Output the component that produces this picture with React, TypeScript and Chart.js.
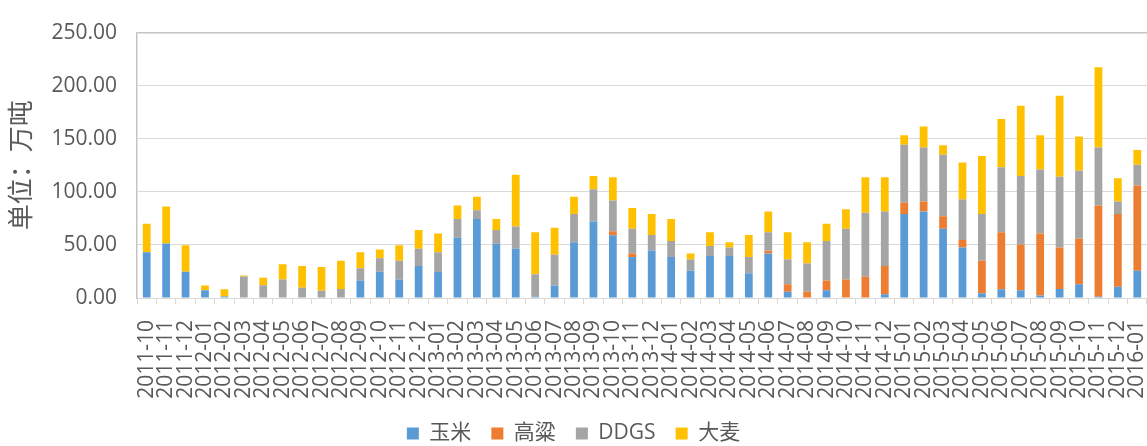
import React, { useEffect, useRef } from "react";
import { Chart, registerables } from "chart.js";

Chart.register(...registerables);

const categories: string[] = [
  "2011-10", "2011-11", "2011-12",
  "2012-01", "2012-02", "2012-03", "2012-04", "2012-05", "2012-06", "2012-07", "2012-08", "2012-09", "2012-10", "2012-11", "2012-12",
  "2013-01", "2013-02", "2013-03", "2013-04", "2013-05", "2013-06", "2013-07", "2013-08", "2013-09", "2013-10", "2013-11", "2013-12",
  "2014-01", "2014-02", "2014-03", "2014-04", "2014-05", "2014-06", "2014-07", "2014-08", "2014-09", "2014-10", "2014-11", "2014-12",
  "2015-01", "2015-02", "2015-03", "2015-04", "2015-05", "2015-06", "2015-07", "2015-08", "2015-09", "2015-10", "2015-11", "2015-12",
  "2016-01",
];

// 玉米
const corn: number[] = [
  43.1, 51.3, 24.7,
  7.2, 1.5, 0, 0, 0, 0, 0, 0, 16.6, 24.7, 17.5, 30.2,
  24.5, 57.0, 74.5, 51.0, 46.5, 1.2, 11.8, 52.5, 72.1, 59.1, 38.6, 44.7,
  38.6, 25.6, 39.5, 39.5, 23.2, 41.9, 6.0, 0, 7.2, 0, 0, 3.6,
  79.1, 81.5, 65.2, 47.6, 4.5, 8.2, 7.2, 2.4, 8.4, 13.0, 1.2, 10.5,
  25.6,
];

// 高粱
const sorghum: number[] = [
  0, 0, 0,
  0, 0, 0, 0, 0, 0, 0, 0, 0, 0, 0, 0,
  0, 0, 0, 0, 0, 0, 0, 0, 0, 3.7, 3.3, 0,
  0, 0, 0, 0, 0, 2.5, 7.0, 6.0, 9.4, 17.5, 19.9, 26.6,
  10.6, 9.4, 11.8, 7.0, 30.5, 53.7, 42.9, 58.3, 39.2, 42.8, 86.0, 68.6,
  80.4,
];

// DDGS
const ddgs: number[] = [
  0, 0, 0,
  0, 0, 20.2, 12.0, 17.5, 9.6, 6.9, 8.4, 11.5, 12.7, 17.5, 16.3,
  18.6, 17.5, 8.2, 13.0, 20.8, 21.1, 29.0, 26.6, 30.3, 29.0, 23.3, 14.7,
  15.1, 10.6, 9.4, 8.1, 15.4, 17.5, 23.2, 26.6, 37.1, 47.7, 60.4, 51.3,
  54.6, 50.9, 58.0, 38.3, 44.1, 61.3, 64.9, 60.3, 66.5, 64.0, 54.6, 11.8,
  19.5,
];

// 大麦
const barley: number[] = [
  26.9, 35.0, 25.1,
  4.6, 6.7, 0.9, 7.0, 14.2, 20.6, 22.4, 26.6, 15.0, 8.2, 14.8, 17.5,
  17.6, 12.7, 12.7, 10.5, 48.9, 39.6, 25.3, 16.3, 12.6, 22.0, 19.6, 19.7,
  20.8, 5.7, 13.0, 4.9, 20.8, 19.6, 25.7, 19.9, 16.3, 18.4, 33.5, 32.3,
  9.1, 19.7, 9.0, 34.8, 54.6, 45.3, 66.2, 32.4, 76.4, 32.4, 75.6, 22.0,
  14.0,
];

const seriesNames: string[] = ["玉米", "高粱", "DDGS", "大麦"];
const seriesColors: string[] = ["#5B9BD5", "#ED7D31", "#A5A5A5", "#FFC000"];
const yTicks: number[] = [0, 50, 100, 150, 200, 250];
const yTitle = "单位：万吨";

const W = 1147;
const H = 446;
const FONT = '"Open Sans", "Noto Sans CJK SC", sans-serif';
const TEXT = "#595959";

const legendFit = {
  id: "legendFit",
  beforeInit(chart: any) {
    const legend = chart.legend;
    if (!legend) return;
    const orig = legend.fit;
    legend.fit = function () {
      orig.call(this);
      this.height = 43;
    };
  },
};

export default function App() {
  const ref = useRef<HTMLCanvasElement | null>(null);

  useEffect(() => {
    if (!ref.current) return;
    const chart = new Chart(ref.current, {
      type: "bar",
      data: {
        labels: categories,
        datasets: [corn, sorghum, ddgs, barley].map((d, i) => ({
          label: seriesNames[i],
          data: d,
          backgroundColor: seriesColors[i],
          borderWidth: 0,
          barPercentage: 0.4,
          categoryPercentage: 1.0,
        })),
      },
      options: {
        responsive: false,
        animation: false,
        layout: { padding: { top: 22, left: 0, right: 0, bottom: 0 } },
        plugins: {
          legend: {
            position: "bottom",
            labels: {
              boxWidth: 12,
              boxHeight: 12,
              padding: 20,
              color: TEXT,
              font: { family: FONT, size: 21 },
            },
          },
          tooltip: { enabled: false },
        },
        scales: {
          x: {
            stacked: true,
            offset: true,
            grid: {
              display: true,
              drawOnChartArea: false,
              drawTicks: true,
              tickLength: 6,
              offset: true,
              color: "#d9d9d9",
            },
            border: { display: true, color: "#d9d9d9" },
            ticks: {
              autoSkip: false,
              minRotation: 90,
              maxRotation: 90,
              padding: 16,
              color: TEXT,
              font: { family: FONT, size: 21 },
            },
            afterFit(scale: any) {
              scale.height = 105;
              scale.paddingLeft = 0;
              scale.paddingRight = 0;
            },
          },
          y: {
            stacked: true,
            min: 0,
            max: 250,
            afterBuildTicks(scale: any) {
              scale.ticks = yTicks.map((v) => ({ value: v }));
            },
            grid: {
              drawTicks: false,
              color: (ctx: any) => (ctx.tick && ctx.tick.value === 250 ? "#c4c4c4" : "#d9d9d9"),
              lineWidth: (ctx: any) => (ctx.tick && ctx.tick.value === 250 ? 1.5 : 1),
            },
            border: { display: true, color: "#c4c4c4", width: 1.5 },
            ticks: {
              padding: 20,
              color: TEXT,
              font: { family: FONT, size: 21 },
              callback: (v: any) => Number(v).toFixed(2),
            },
            title: {
              display: true,
              text: yTitle,
              color: TEXT,
              font: { family: FONT, size: 26 },
              padding: { top: 7, bottom: 0 },
            },
            afterFit(scale: any) {
              scale.width = 137;
            },
          },
        },
      },
      plugins: [legendFit],
    });
    return () => chart.destroy();
  }, []);

  return (
    <div style={{ position: "fixed", left: 0, top: 0, width: W, height: H, background: "#fff" }}>
      <canvas ref={ref} width={W} height={H} style={{ width: W, height: H, display: "block" }} />
    </div>
  );
}
